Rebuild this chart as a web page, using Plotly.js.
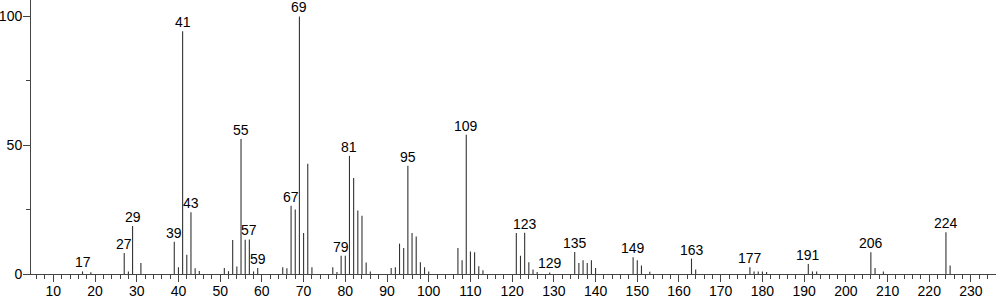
<!DOCTYPE html>
<html>
<head>
<meta charset="utf-8">
<script src="https://cdn.plot.ly/plotly-3.0.1.min.js"></script>
<style>html,body{margin:0;padding:0;background:#fff;}#chart{width:996px;height:299px;}</style>
</head>
<body>
<div id="chart"></div>
<script>
// m/z values and relative intensities (%)
const mz = [17,19,27,28,29,31,39,40,41,42,43,44,45,51,52,53,54,55,56,57,58,59,
  65,66,67,68,69,70,71,72,77,78,79,80,81,82,83,84,85,86,91,92,93,94,95,96,97,98,99,100,
  107,108,109,110,111,112,113,121,122,123,124,125,126,129,135,136,137,138,139,140,
  149,150,151,153,163,164,177,178,179,180,181,191,192,193,206,207,209,224,225];
const intensity = [1.0,0.7,8.2,1.0,18.6,4.3,12.5,2.6,94.3,7.5,24.0,2.2,1.2,2.3,1.1,13.2,2.9,52.4,13.3,13.4,1.0,2.3,
  2.6,2.2,26.5,25.0,100,15.9,42.8,2.6,2.6,0.8,7.1,7.1,45.9,37.3,24.7,22.6,4.5,1.0,2.3,2.6,11.8,10.1,42.0,15.9,14.6,4.6,2.6,1.0,
  10.1,5.3,54.1,8.7,8.4,3.0,1.5,15.9,7.1,16.0,4.6,1.7,0.8,0.6,8.5,4.3,5.3,4.3,5.3,2.3,
  6.5,5.3,3.3,0.9,6.0,1.7,2.6,1.0,1.0,1.0,0.8,3.9,1.0,1.0,8.4,2.3,1.0,16.2,3.3];
const labeledPeaks = [17,27,29,39,41,43,55,57,59,67,69,79,81,95,109,123,129,135,149,163,177,191,206,224];
const xTickVals = [10,20,30,40,50,60,70,80,90,100,110,120,130,140,150,160,170,180,190,200,210,220,230];
const yTickVals = [0,50,100];

const lx = [], ly = [];
mz.forEach((m, i) => { lx.push(m, m, null); ly.push(0, intensity[i], null); });

const stems = {
  x: lx, y: ly, type: 'scatter', mode: 'lines',
  line: {color: '#333', width: 1.1}, hoverinfo: 'skip', showlegend: false
};

const annotations = labeledPeaks.map(m => ({
  x: m, y: intensity[mz.indexOf(m)], xref: 'x', yref: 'y',
  text: String(m), showarrow: false, yanchor: 'bottom', xanchor: 'center',
  yshift: -1, font: {family: 'Liberation Sans, Arial, sans-serif', size: 14, color: '#000'}
}));

const layout = {
  width: 996, height: 299,
  margin: {l: 31, r: 0, t: 0, b: 25, pad: 0},
  paper_bgcolor: '#fff', plot_bgcolor: '#fff',
  font: {family: 'Liberation Sans, Arial, sans-serif', size: 14, color: '#000'},
  showlegend: false,
  xaxis: {
    range: [4.65, 236.0], showgrid: false, zeroline: false,
    showline: true, linecolor: '#444', linewidth: 1,
    tickmode: 'array', tickvals: xTickVals, ticks: 'outside', ticklen: 7, tickcolor: '#444', tickwidth: 1,
    ticklabelstandoff: -3,
    minor: {dtick: 2, tick0: 0, ticks: 'outside', ticklen: 4, tickcolor: '#444', tickwidth: 1, showgrid: false},
    tickfont: {size: 14, color: '#000'}, fixedrange: true
  },
  yaxis: {
    range: [0, 106.4], showgrid: false, zeroline: false,
    showline: true, linecolor: '#444', linewidth: 1,
    tickmode: 'array', tickvals: yTickVals, ticks: 'outside', ticklen: 7, tickcolor: '#444', tickwidth: 1,
    ticklabelstandoff: -2,
    minor: {dtick: 25, tick0: 0, ticks: 'outside', ticklen: 4, tickcolor: '#444', tickwidth: 1, showgrid: false},
    tickfont: {size: 14, color: '#000'}, fixedrange: true
  },
  annotations: annotations
};

Plotly.newPlot('chart', [stems], layout, {staticPlot: true, displayModeBar: false});
</script>
</body>
</html>
